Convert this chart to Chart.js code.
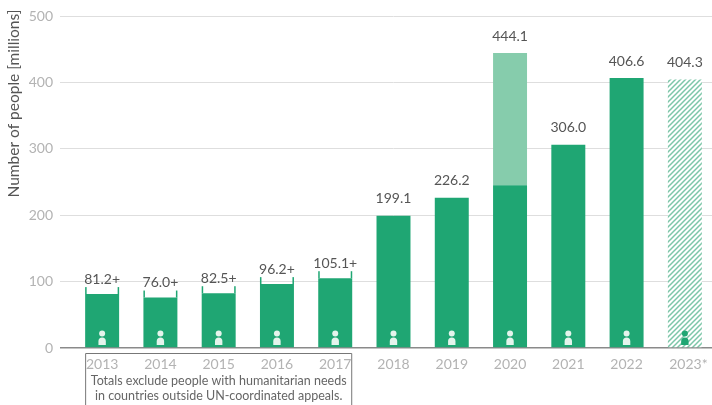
<!DOCTYPE html>
<html>
<head>
<meta charset="utf-8">
<style>
html, body { margin: 0; padding: 0; background: #fff; overflow: hidden; }
#wrap { width: 714px; height: 405px; }
</style>
<script src="https://cdn.jsdelivr.net/npm/chart.js@4/dist/chart.umd.min.js"></script>
</head>
<body>
<div id="wrap"><canvas id="chart"></canvas></div>
<script>
"use strict";

const years = ['2013', '2014', '2015', '2016', '2017', '2018', '2019', '2020', '2021', '2022', '2023*'];
const mainValues = [81.2, 76.0, 82.5, 96.2, 105.1, 199.1, 226.2, 245, 306.0, 406.6, null];
const covidValues = [null, null, null, null, null, null, null, 199.1, null, null, null];
const estimateValues = [null, null, null, null, null, null, null, null, null, null, 404.3];
const totalLabels = ['81.2+', '76.0+', '82.5+', '96.2+', '105.1+', '199.1', '226.2', '444.1', '306.0', '406.6', '404.3'];
const totals = [81.2, 76.0, 82.5, 96.2, 105.1, 199.1, 226.2, 444.1, 306.0, 406.6, 404.3];
const bracketYears = ['2013', '2014', '2015', '2016', '2017'];
const noteLines = ['Totals exclude people with humanitarian needs', 'in countries outside UN-coordinated appeals.'];
const yTitle = 'Number of people [millions]';

const FONT = 'Lato, "Open Sans", sans-serif';
const GREEN = '#1fa673';
const LIGHT = '#86ccac';

function hatch() {
	const c = document.createElement('canvas');
	c.width = c.height = 5;
	const g = c.getContext('2d');
	g.fillStyle = '#fff';
	g.fillRect(0, 0, 5, 5);
	g.strokeStyle = '#7cc6a8';
	g.lineWidth = 1.5;
	g.beginPath();
	g.moveTo(-1, 1); g.lineTo(1, -1);
	g.moveTo(-1, 6); g.lineTo(6, -1);
	g.moveTo(4, 6); g.lineTo(6, 4);
	g.stroke();
	return g.createPattern(c, 'repeat');
}

// labels on top of the bars, the little brackets, the people icons, the note box and the y title
const extras = {
	id: 'extras',
	afterDatasetsDraw(chart) {
		const ctx = chart.ctx, x = chart.scales.x, y = chart.scales.y;
		ctx.save();
		years.forEach((yr, i) => {
			const cx = x.getPixelForValue(i);
			const top = y.getPixelForValue(totals[i]);
			const bracket = bracketYears.includes(yr);

			if (bracket) {
				ctx.fillStyle = GREEN;
				ctx.fillRect(cx - 17, top - 7, 1.5, 7);
				ctx.fillRect(cx + 15.5, top - 7, 1.5, 7);
			}

			ctx.fillStyle = '#555';
			ctx.font = '14px ' + FONT;
			ctx.textAlign = 'center';
			ctx.textBaseline = 'middle';
			ctx.fillText(totalLabels[i], cx, top - (bracket ? 15 : 17));

			// person
			const base = y.getPixelForValue(0);
			ctx.fillStyle = yr === '2023*' ? GREEN : '#e4f4ec';
			ctx.beginPath();
			ctx.arc(cx, base - 14.5, 3, 0, Math.PI * 2);
			ctx.fill();
			ctx.beginPath();
			ctx.moveTo(cx - 3.7, base - 3);
			ctx.lineTo(cx + 3.7, base - 3);
			ctx.lineTo(cx + 3.7, base - 7);
			ctx.quadraticCurveTo(cx + 3.5, base - 10.5, cx, base - 10.5);
			ctx.quadraticCurveTo(cx - 3.5, base - 10.5, cx - 3.7, base - 7);
			ctx.closePath();
			ctx.fill();
		});

		const left = x.getPixelForValue(0) - 17;
		const right = x.getPixelForValue(4) + 17;
		ctx.strokeStyle = '#777';
		ctx.lineWidth = 1;
		ctx.beginPath();
		ctx.moveTo(left + 0.5, 408);
		ctx.lineTo(left + 0.5, 353.5);
		ctx.lineTo(right - 0.5, 353.5);
		ctx.lineTo(right - 0.5, 408);
		ctx.stroke();

		ctx.fillStyle = '#666';
		ctx.font = '12.5px ' + FONT;
		ctx.textAlign = 'center';
		noteLines.forEach((line, i) => ctx.fillText(line, (left + right) / 2, 381 + i * 15));

		// axis title sits higher than the scale box allows, so it is drawn here
		ctx.translate(14, 103.5);
		ctx.rotate(-Math.PI / 2);
		ctx.fillStyle = '#555';
		ctx.font = '15.5px ' + FONT;
		ctx.fillText(yTitle, 0, 0);
		ctx.restore();
	}
};

new Chart(document.getElementById('chart'), {
	type: 'bar',
	data: {
		labels: years,
		datasets: [
			{ data: mainValues, backgroundColor: GREEN },
			{ data: covidValues, backgroundColor: LIGHT },
			{ data: estimateValues, backgroundColor: hatch() }
		]
	},
	options: {
		responsive: true,
		maintainAspectRatio: false,
		animation: false,
		layout: { padding: { top: 16, left: 0, right: 0, bottom: 0 } },
		datasets: { bar: { barPercentage: 0.583, categoryPercentage: 1 } },
		plugins: { legend: { display: false }, tooltip: { enabled: false } },
		scales: {
			x: {
				stacked: true,
				afterFit(s) { s.height = 57; },
				grid: { display: false },
				border: { display: false },
				ticks: {
					color: '#b3b3b3',
					font: { family: FONT, size: 14 },
					padding: 0,
					maxRotation: 0,
					autoSkip: false,
					// the asterisk hangs outside the centred year
					callback(v, i) { return years[i].endsWith('*') ? '\u2002' + years[i] : years[i]; }
				}
			},
			y: {
				stacked: true,
				min: 0,
				max: 500,
				afterFit(s) { s.width = 73; },
				border: { display: false },
				grid: {
					tickLength: 13,
					color: c => c.tick.value === 0 ? '#8a8a8a' : '#dedede',
					tickColor: c => c.tick.value === 0 ? '#8a8a8a' : '#dedede',
					lineWidth: c => c.tick.value === 0 ? 1.5 : 1
				},
				ticks: { stepSize: 100, color: '#b3b3b3', font: { family: FONT, size: 14 }, padding: 7 }
			}
		}
	},
	plugins: [extras]
});
</script>
</body>
</html>
